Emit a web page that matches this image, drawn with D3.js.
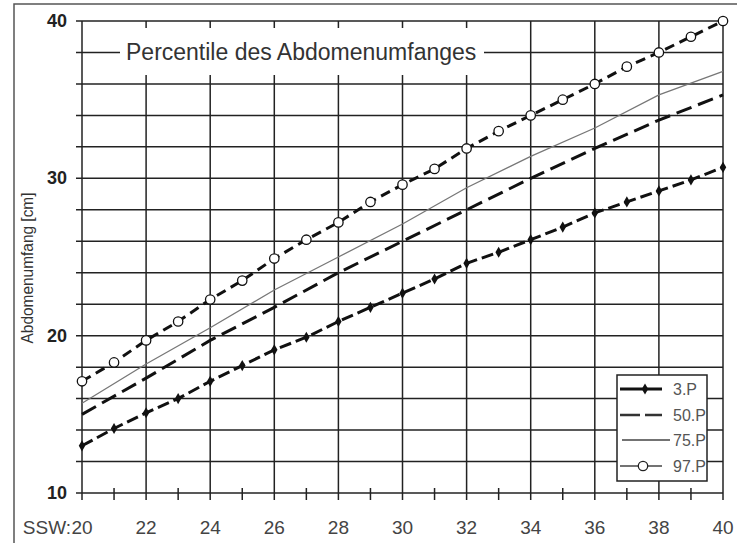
<!DOCTYPE html>
<html>
<head>
<meta charset="utf-8">
<script src="https://cdn.jsdelivr.net/npm/d3@7"></script>
<style>
  body { margin: 0; background: #fff; }
  text { font-family: "Liberation Sans", Arial, sans-serif; }
</style>
</head>
<body>
<svg id="chart" width="737" height="543"></svg>
<script>
const weeks = [20,21,22,23,24,25,26,27,28,29,30,31,32,33,34,35,36,37,38,39,40]
const evenWeeks = [20,22,24,26,28,30,32,34,36,38,40]
const p3 = [13.0,14.1,15.1,16.0,17.1,18.1,19.1,19.9,20.9,21.8,22.7,23.6,24.6,25.3,26.1,26.9,27.8,28.5,29.2,29.9,30.7]
const p50 = [15.0,17.3,19.7,21.8,24.0,26.0,28.0,30.0,31.9,33.7,35.3]
const p75 = [15.7,18.2,20.5,22.9,25.0,27.1,29.4,31.4,33.2,35.3,36.8]
const p97 = [17.1,18.3,19.7,20.9,22.3,23.5,24.9,26.1,27.2,28.5,29.6,30.6,31.9,33.0,34.0,35.0,36.0,37.1,38.0,39.0,40.0]
const yGrid = [10,12,14,16,18,20,22,24,26,28,30,32,34,36,38,40]
const yLabels = [10,20,30,40]
const legendNames = ['3.P','50.P','75.P','97.P']
const title = 'Percentile des Abdomenumfanges'
const yTitle = 'Abdomenumfang [cm]'

const svg = d3.select('#chart')

const scalex = d3.scaleLinear()
    .domain([20,40])
    .range([82,723])
const scaley = d3.scaleLinear()
    .domain([10,40])
    .range([493,21])

// outer frame (only left and top visible)
svg.append('path')
    .attr('d', 'M14,543 L14,4 L737,4')
    .attr('fill', 'none')
    .attr('stroke', '#555')
    .attr('stroke-width', 1.5)

const grid = svg.append('g')
    .attr('stroke', '#222')
    .attr('stroke-width', 1.5)

grid.selectAll('line.h')
    .data(yGrid)
    .enter()
    .append('line')
    .attr('x1', scalex(20) - 6)
    .attr('x2', scalex(40))
    .attr('y1', d => scaley(d))
    .attr('y2', d => scaley(d))

grid.selectAll('line.v')
    .data(weeks)
    .enter()
    .append('line')
    .attr('x1', d => scalex(d))
    .attr('x2', d => scalex(d))
    .attr('y1', d => d % 2 === 0 ? scaley(40) : scaley(10) - 5)
    .attr('y2', scaley(10) + 7)

// white box behind the title
svg.append('rect')
    .attr('x', 120)
    .attr('y', 28)
    .attr('width', 364)
    .attr('height', 47)
    .attr('fill', '#fff')

svg.append('text')
    .attr('x', 126)
    .attr('y', 60)
    .attr('font-size', 23)
    .attr('fill', '#333')
    .text(title)

svg.selectAll('text.ylab')
    .data(yLabels)
    .enter()
    .append('text')
    .attr('x', 67)
    .attr('y', d => scaley(d) + 6)
    .attr('text-anchor', 'end')
    .attr('font-size', 18)
    .attr('font-weight', 'bold')
    .attr('fill', '#222')
    .text(d => d)

svg.selectAll('text.xlab')
    .data(evenWeeks)
    .enter()
    .append('text')
    .attr('x', d => scalex(d))
    .attr('y', 534)
    .attr('text-anchor', 'middle')
    .attr('font-size', 19)
    .attr('fill', '#444')
    .text(d => d)

svg.append('text')
    .attr('x', scalex(20) - 11)
    .attr('y', 534)
    .attr('text-anchor', 'end')
    .attr('font-size', 19)
    .attr('fill', '#444')
    .text('SSW:')

svg.append('text')
    .attr('transform', 'translate(33,268) rotate(-90)')
    .attr('text-anchor', 'middle')
    .attr('font-size', 17)
    .attr('textLength', 151)
    .attr('lengthAdjust', 'spacingAndGlyphs')
    .attr('fill', '#333')
    .text(yTitle)

function addpath(xs, ys, strk, width, dash)
{
    svg.append('path')
        .datum(xs.map((x, i) => [x, ys[i]]))
        .attr('fill', 'none')
        .attr('stroke', strk)
        .attr('stroke-width', width)
        .attr('stroke-dasharray', dash)
        .attr('d', d3.line()
            .x(d => scalex(d[0]))
            .y(d => scaley(d[1]))
        )
}

addpath(evenWeeks, p75, '#777', 1.3, null)
addpath(evenWeeks, p50, '#111', 3, '16,7')
addpath(weeks, p3, '#111', 3, '12,5')
addpath(weeks, p97, '#111', 3, '10,6')

svg.append('g')
    .selectAll('path')
    .data(weeks)
    .enter()
    .append('path')
    .attr('transform', (d, i) => 'translate(' + scalex(d) + ',' + scaley(p3[i]) + ')')
    .attr('d', d3.symbol().type(d3.symbolDiamond).size(36))
    .attr('fill', '#111')

svg.append('g')
    .selectAll('circle')
    .data(weeks)
    .enter()
    .append('circle')
    .attr('cx', d => scalex(d))
    .attr('cy', (d, i) => scaley(p97[i]))
    .attr('r', 4.7)
    .attr('fill', '#fff')
    .attr('stroke', '#111')
    .attr('stroke-width', 1.3)

// legend
const legend = svg.append('g')
legend.append('rect')
    .attr('x', 617)
    .attr('y', 375)
    .attr('width', 90)
    .attr('height', 106)
    .attr('fill', '#fff')
    .attr('stroke', '#222')
    .attr('stroke-width', 1.5)

const rows = [389, 415, 440, 466]
legend.selectAll('text')
    .data(legendNames)
    .enter()
    .append('text')
    .attr('x', 673)
    .attr('y', (d, i) => rows[i] + 6)
    .attr('font-size', 16)
    .attr('fill', '#555')
    .text(d => d)

legend.append('line')
    .attr('x1', 620).attr('x2', 662)
    .attr('y1', rows[0]).attr('y2', rows[0])
    .attr('stroke', '#111').attr('stroke-width', 3)
legend.append('path')
    .attr('transform', 'translate(645,' + rows[0] + ')')
    .attr('d', d3.symbol().type(d3.symbolDiamond).size(36))
    .attr('fill', '#111')
legend.append('line')
    .attr('x1', 620).attr('x2', 662)
    .attr('y1', rows[1]).attr('y2', rows[1])
    .attr('stroke', '#333').attr('stroke-width', 2.5)
    .attr('stroke-dasharray', '20,5')
legend.append('line')
    .attr('x1', 622).attr('x2', 670)
    .attr('y1', rows[2]).attr('y2', rows[2])
    .attr('stroke', '#444').attr('stroke-width', 1.3)
legend.append('line')
    .attr('x1', 620).attr('x2', 662)
    .attr('y1', rows[3]).attr('y2', rows[3])
    .attr('stroke', '#444').attr('stroke-width', 1.3)
legend.append('circle')
    .attr('cx', 643).attr('cy', rows[3]).attr('r', 4.7)
    .attr('fill', '#fff').attr('stroke', '#222').attr('stroke-width', 1.3)
</script>
</body>
</html>
